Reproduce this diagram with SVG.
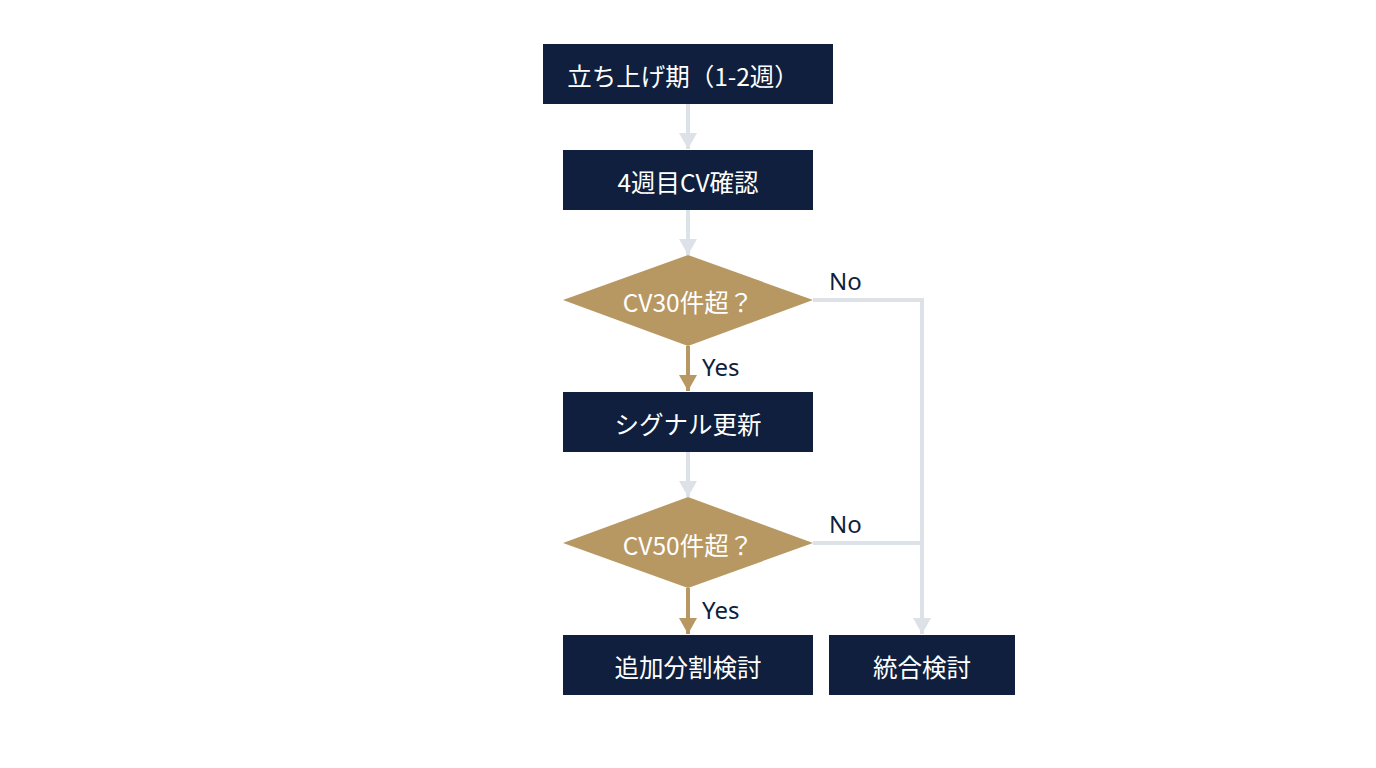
<svg xmlns="http://www.w3.org/2000/svg" width="1376" height="768" viewBox="0 0 1376 768">
<defs>
<style>
.box{fill:#0f1f3d}
.dia{fill:#b89862}
.nt{fill:#ffffff;font-family:"Noto Sans CJK JP","Noto Sans",sans-serif;font-size:24.5px;font-weight:400;text-anchor:middle;dominant-baseline:central}
.lbl{fill:#0f1f3d;font-family:"Noto Sans","Noto Sans CJK JP",sans-serif;font-size:24px;font-weight:400}
.g{stroke:#dde1e8;stroke-width:4;fill:none}
.y{stroke:#b89862;stroke-width:4;fill:none}
</style>
<marker id="ag" viewBox="0 0 16 18" refX="16" refY="9" markerWidth="16" markerHeight="18" markerUnits="userSpaceOnUse" orient="auto"><path d="M0,0 L16,9 L0,18 Z" fill="#dde1e8"/></marker>
<marker id="ay" viewBox="0 0 16 18" refX="16" refY="9" markerWidth="16" markerHeight="18" markerUnits="userSpaceOnUse" orient="auto"><path d="M0,0 L16,9 L0,18 Z" fill="#b89862"/></marker>
</defs>
<rect width="1376" height="768" fill="#ffffff"/>
<g id="connectors">
<path class="g" d="M688,104 V149" marker-end="url(#ag)"/>
<path class="g" d="M688,210 V255" marker-end="url(#ag)"/>
<path class="y" d="M688,346 V391" marker-end="url(#ay)"/>
<path class="g" d="M688,452 V497" marker-end="url(#ag)"/>
<path class="y" d="M688,588 V634" marker-end="url(#ay)"/>
<path class="g" d="M813,300 H922 V634" marker-end="url(#ag)"/>
<path class="g" d="M813,543 H922"/>
<text class="lbl" x="829" y="290">No</text>
<text class="lbl" x="829" y="533">No</text>
<text class="lbl" x="702" y="376">Yes</text>
<text class="lbl" x="702" y="619">Yes</text>
</g>
<g id="n1"><rect class="box" x="543" y="44" width="290" height="60"/><text class="nt" x="683" y="75">立ち上げ期（1-2週）</text></g>
<g id="n2"><rect class="box" x="563" y="150" width="250" height="60"/><text class="nt" x="688" y="181">4週目CV確認</text></g>
<g id="d1"><polygon class="dia" points="688,255 813,300 688,346 563,300"/><text class="nt" x="688" y="301">CV30件超？</text></g>
<g id="n3"><rect class="box" x="563" y="392" width="250" height="60"/><text class="nt" x="688" y="423">シグナル更新</text></g>
<g id="d2"><polygon class="dia" points="688,497 813,543 688,588 563,543"/><text class="nt" x="688" y="544">CV50件超？</text></g>
<g id="n4"><rect class="box" x="563" y="635" width="250" height="60"/><text class="nt" x="688" y="666">追加分割検討</text></g>
<g id="n5"><rect class="box" x="829" y="635" width="186" height="60"/><text class="nt" x="922" y="666">統合検討</text></g>
</svg>
